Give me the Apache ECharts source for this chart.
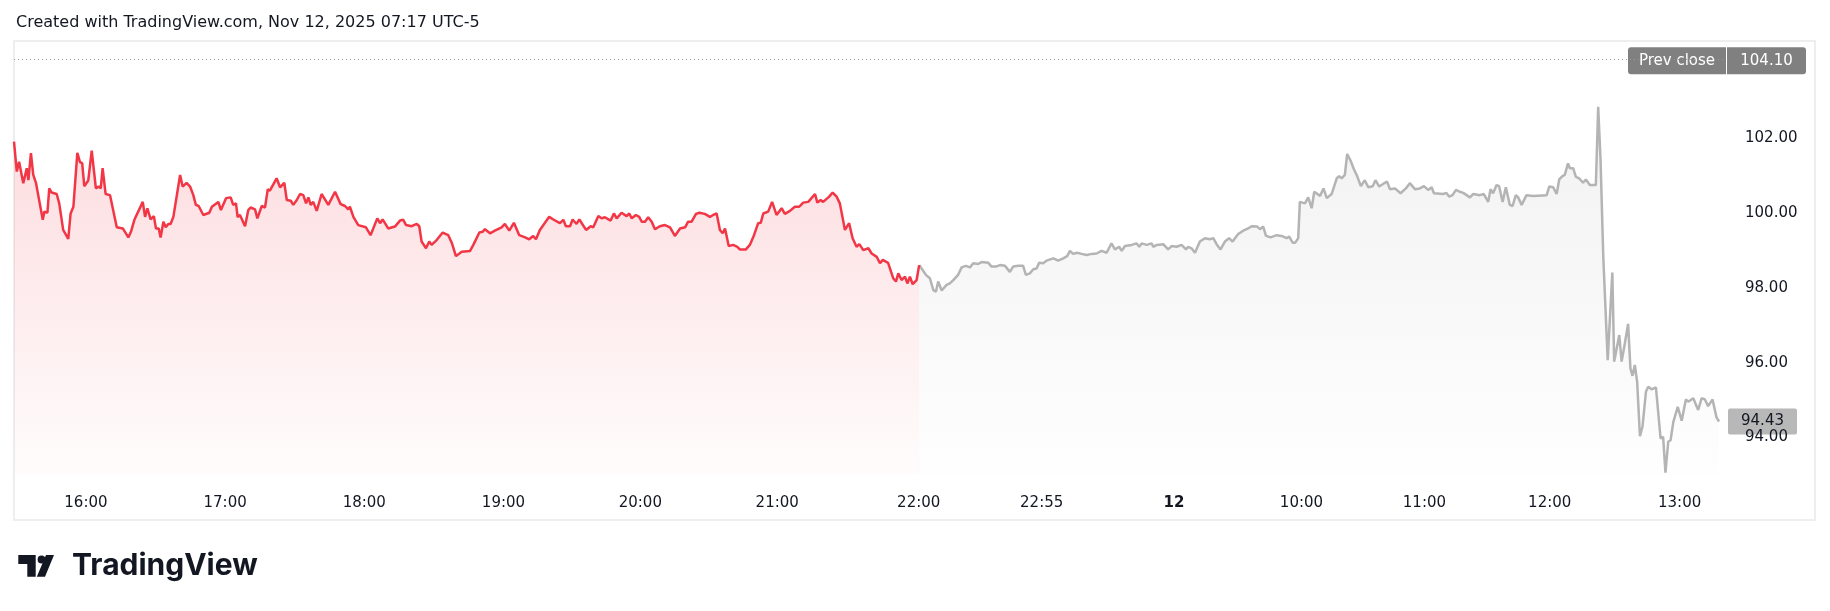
<!DOCTYPE html>
<html><head><meta charset="utf-8">
<script src="https://cdn.jsdelivr.net/npm/echarts@6/dist/echarts.min.js"></script>
<style>html,body{margin:0;padding:0;background:#fff}#c{width:1830px;height:611px}</style>
</head><body><div id="c"></div>
<script>
// bar index (1 unit = one bar on TradingView's index time axis) and price
const eveningBars=[0,1.2,2.2,4.0,5.5,6.2,7.3,8.3,9.5,12.4,13.1,14.4,15.2,16.2,18.4,19.5,20.3,21.2,23.4,24.4,25.6,27.3,28.4,29.4,30.3,32.0,33.5,35.3,36.5,37.4,38.2,39.5,41.4,44.3,46.9,49.3,50.4,51.9,55.5,56.5,57.5,58.9,60.3,61.2,62.4,63.2,64.4,65.4,66.5,67.5,68.7,71.6,72.7,74.4,75.9,77.3,78.4,79.6,81.6,84.2,85.3,88.1,89.2,91.4,93.4,94.5,95.7,96.4,97.4,99.6,101.0,102.0,103.9,104.9,106.8,108.2,109.4,110.3,113.2,114.7,116.5,117.6,119.3,120.4,121.9,123.3,124.7,125.9,126.9,127.9,129.0,130.5,132.6,135.5,138.4,140.8,142.7,144.1,144.8,146.3,148.4,151.7,153.7,156.6,157.8,158.9,161.3,164.2,166.4,167.8,169.0,171.4,173.6,174.7,175.7,177.6,179.0,180.0,182.2,184.8,
187.2,188.7,190.5,193.0,196.6,198.0,200.6,202.0,203.0,205.2,207.3,210.2,211.6,213.5,215.5,217.8,220.3,222.1,223.8,225.0,226.7,230.7,232.5,235.3,236.8,237.9,239.7,240.8,242.5,243.7,246.6,248.6,249.7,251.9,253.3,254.7,257.2,258.6,259.8,261.9,264.1,265.2,266.3,268.1,269.5,270.6,272.0,273.4,274.9,276.3,278.4,280.6,281.3,282.8,284.9,287.1,289.3,290.6,292.1,294.0,295.4,297.8,300.0,301.4,302.9,304.3,305.5,306.5,307.2,308.1,310.0,311.8,312.9,315.5,317.2,319.0,320.8,321.9,323.0,325.1,326.8,328.7,330.9,332.3,334.5,336.6,338.5,340.2,342.4,345.3,346.3,347.7,348.8,351.4,352.9,354.6,356.0,358.2,360.0,361.5,363.2,364.4,366.1,368.3,369.7,371.9,373.3,374.5,376.8,379.0,380.2,381.2,382.6,384.1,385.1,386.2,387.4,389.1,390.2];
const eveningPrices=[101.91,101.11,101.37,100.80,101.20,100.88,101.60,101.02,100.80,99.82,100.04,100.01,100.66,100.55,100.51,100.26,100.28,99.55,99.31,99.99,100.17,101.61,101.37,101.33,100.72,100.87,101.67,100.66,100.71,100.66,101.20,100.51,100.48,99.62,99.59,99.35,99.50,99.82,100.30,99.90,100.13,99.83,99.92,99.59,99.59,99.35,99.77,99.62,99.71,99.71,99.90,101.02,100.71,100.81,100.71,100.48,100.22,100.19,99.95,100.01,100.17,100.30,100.08,100.40,100.42,100.22,100.26,99.89,99.95,99.65,100.08,100.15,100.10,99.86,100.19,100.15,100.64,100.60,100.93,100.69,100.81,100.35,100.33,100.22,100.35,100.51,100.48,100.26,100.42,100.22,100.30,100.06,100.51,100.22,100.57,100.24,100.19,100.10,100.17,99.90,99.68,99.62,99.41,99.86,99.73,99.83,99.59,99.64,99.80,99.82,99.68,99.65,99.71,99.65,99.24,99.06,99.24,99.15,99.28,99.48,
99.41,99.21,98.85,98.97,98.99,99.15,99.48,99.50,99.57,99.46,99.53,99.62,99.71,99.53,99.74,99.41,99.35,99.30,99.39,99.30,99.55,99.90,99.83,99.73,99.82,99.65,99.65,99.83,99.71,99.83,99.55,99.65,99.62,99.92,99.86,99.89,99.80,99.99,99.86,100.01,99.92,99.99,99.86,99.95,99.90,99.77,99.77,99.89,99.77,99.57,99.65,99.68,99.71,99.62,99.39,99.59,99.62,99.77,99.77,99.98,100.01,99.98,99.90,99.95,99.99,99.55,99.46,99.59,99.57,99.12,99.15,99.10,99.03,99.03,99.15,99.41,99.73,99.74,99.99,100.04,100.30,99.95,100.13,99.98,100.06,100.17,100.17,100.28,100.30,100.51,100.28,100.35,100.30,100.44,100.55,100.44,100.26,99.55,99.73,99.33,99.10,99.17,99.01,99.06,98.92,98.83,98.66,98.75,98.67,98.26,98.17,98.39,98.21,98.30,98.12,98.30,98.10,98.21,98.61];
const dayBars=[390.2,391.7,393.1,394.8,396.3,397.4,398.4,399.9,402.0,403.4,404.9,407.0,408.5,410.3,412.1,413.5,415.6,417.1,420.0,421.4,423.3,425.0,427.2,429.3,430.7,432.9,435.0,436.2,437.9,439.4,440.8,441.9,443.7,445.1,448.0,450.1,452.3,454.0,455.2,456.6,458.3,460.2,462.4,464.5,466.7,468.8,471.0,473.1,474.6,476.4,477.5,478.9,481.8,483.9,485.1,486.1,488.3,490.4,491.1,492.6,495.4,497.5,499.0,501.2,503.3,505.2,506.2,507.6,509.1,511.2,513.4,515.5,517.0,518.4,520.1,522.0,523.8,525.3,527.7,529.9,532.0,533.5,535.9,537.1,538.5,539.7,541.7,544.3,546.4,548.6,549.7,551.2,552.3,553.6,554.3,556.5,557.9,559.4,560.5,563.0,564.5,565.9,568.0,570.2,571.3,572.3,573.7,574.7,576.2,577.6,579.0,580.6,582.3,583.8,585.7,586.9,588.5,590.2,591.9,593.1,595.3,597.7,600.0,601.7,603.9,606.0,607.8,609.6,611.1,612.1,616.1,617.5,618.7,620.1,621.6,623.3,624.7,626.2,627.6,629.0,631.9,633.6,635.5,636.5,637.6,639.1,640.2,641.7,643.1,644.8,646.0,647.4,648.4,649.9,652.0,654.9,660.7,661.8,663.5,665.0,666.1,667.5,668.5,669.9,670.7,672.1,673.3,674.7,676.4,677.6,679.3,681.9,682.9,683.9,685.1,687.0,689.0,689.8,692.0,693.0,694.4,695.8,696.8,697.7,698.7,699.7,700.9,702.0,703.5,704.5,705.9,707.8,708.3,709.8,710.9,711.9,713.1,714.1,715.3,717.2,718.9,720.7,721.7,723.9,726.0,727.5,728.9,730.3,732.2,733.9,735.0];
const dayPrices=[98.61,98.48,98.35,98.26,97.94,97.90,98.17,97.93,98.08,98.12,98.21,98.35,98.55,98.59,98.55,98.66,98.64,98.69,98.67,98.57,98.57,98.61,98.59,98.43,98.57,98.59,98.59,98.35,98.39,98.50,98.52,98.67,98.66,98.73,98.79,98.73,98.79,98.85,98.99,98.91,98.94,98.91,98.88,98.91,98.92,98.99,98.94,99.19,99.03,99.10,98.99,99.12,99.15,99.19,99.10,99.19,99.15,99.19,99.10,99.15,99.17,99.03,99.12,99.10,99.15,99.03,99.10,99.06,98.94,99.24,99.33,99.30,99.33,99.17,99.03,99.24,99.33,99.24,99.44,99.53,99.59,99.65,99.64,99.57,99.64,99.39,99.35,99.41,99.39,99.33,99.37,99.21,99.21,99.33,100.30,100.26,100.42,100.13,100.57,100.46,100.66,100.40,100.51,100.93,100.99,100.93,101.02,101.58,101.40,101.17,100.99,100.72,100.88,100.69,100.72,100.88,100.71,100.78,100.84,100.64,100.66,100.53,100.66,100.80,100.64,100.66,100.72,100.62,100.69,100.53,100.51,100.54,100.44,100.48,100.62,100.57,100.54,100.48,100.42,100.51,100.48,100.51,100.30,100.64,100.53,100.75,100.72,100.30,100.69,100.22,100.19,100.48,100.42,100.22,100.48,100.46,100.48,100.71,100.69,100.51,100.90,100.99,101.02,101.33,101.20,101.20,100.97,100.93,100.81,100.90,100.75,100.75,102.84,101.46,98.83,96.07,98.41,96.03,96.74,96.03,96.52,97.04,95.85,95.65,95.94,95.49,94.04,94.29,95.23,95.36,95.29,95.34,95.00,93.98,94.02,93.06,93.89,93.93,94.42,94.82,94.45,95.02,94.96,95.05,94.74,95.05,95.02,94.84,95.02,94.54,94.43];
const tickBars=[31,91,151,211,270,329,390,443,500,555,608,662,718];
const tickLabels=['16:00','17:00','18:00','19:00','20:00','21:00','22:00','22:55','12','10:00','11:00','12:00','13:00'];
const boldTicks=['12'];
const priceTicks=[94,96,98,100,102];
const prevClose=104.10;
const lastPrice=94.43;
const titleText='Created with TradingView.com, Nov 12, 2025 07:17 UTC-5';

const FONT='"DejaVu Sans", Verdana, sans-serif';
const chart=echarts.init(document.getElementById('c'),null,{renderer:'canvas'});
const zip=(a,b)=>a.map((x,i)=>[x,b[i]]);
const grad=(r,g,b,a0,a1)=>new echarts.graphic.LinearGradient(0,0,0,1,[{offset:0,color:`rgba(${r},${g},${b},${a0})`},{offset:1,color:`rgba(${r},${g},${b},${a1})`}]);

chart.setOption({
  animation:false,
  backgroundColor:'#ffffff',
  grid:{left:14,right:104,top:41,bottom:136,containLabel:false,outerBoundsMode:'none'},
  xAxis:{type:'value',min:0,max:738,
    axisLine:{show:false},axisTick:{show:false},splitLine:{show:false},
    axisLabel:{customValues:tickBars,margin:21,color:'#131722',fontFamily:FONT,fontSize:15,
      formatter:v=>{const i=tickBars.indexOf(Math.round(v));if(i<0)return '';const t=tickLabels[i];return boldTicks.includes(t)?'{b|'+t+'}':t;},
      rich:{b:{fontWeight:'bold',fontFamily:FONT,fontSize:15,color:'#131722'}}}},
  yAxis:{type:'value',position:'right',min:93,max:104.6,interval:1,scale:true,
    axisLine:{show:false},axisTick:{show:false},splitLine:{show:false},
    axisLabel:{margin:19,align:'left',color:'#131722',fontFamily:FONT,fontSize:15,
      formatter:v=>{const r=Math.round(v);return (Math.abs(v-r)<1e-6&&priceTicks.includes(r))?r.toFixed(2):'';}}},
  series:[
    {type:'line',name:'evening',data:zip(eveningBars,eveningPrices),showSymbol:false,symbol:'none',
      lineStyle:{color:'#f23645',width:2.5},itemStyle:{color:'#f23645'},
      areaStyle:{color:grad(242,54,69,0.24,0.02)},z:3},
    {type:'line',name:'day',data:zip(dayBars,dayPrices),showSymbol:false,symbol:'none',
      lineStyle:{color:'#b4b4b4',width:2.5},itemStyle:{color:'#b4b4b4'},
      areaStyle:{color:grad(150,150,150,0.18,0.01)},z:2,
      markLine:{silent:true,symbol:['none','none'],label:{show:false},
        lineStyle:{color:'#9a9a9a',width:1,type:[1,3]},data:[{yAxis:prevClose}]}}
  ]
});

const gr=chart.convertToPixel({xAxisIndex:0},738);
const yPrev=chart.convertToPixel({yAxisIndex:0},prevClose);
const yLast=chart.convertToPixel({yAxisIndex:0},lastPrice);
chart.setOption({graphic:[
  {type:'rect',silent:true,z:0,shape:{x:14,y:41,width:1801,height:479},style:{fill:'none',stroke:'#eeeeee',lineWidth:2}},
  {type:'text',silent:true,style:{x:16,y:23,text:titleText,font:'16px '+FONT,fill:'#131722',verticalAlign:'middle'}},
  {type:'group',z:100,children:[
    {type:'rect',shape:{x:gr-98,y:yPrev-12.5,width:98,height:27,r:[3,0,0,3]},style:{fill:'#808080'}},
    {type:'rect',shape:{x:gr+1,y:yPrev-12.5,width:79,height:27,r:[0,3,3,0]},style:{fill:'#808080'}},
    {type:'text',style:{x:gr-49,y:yPrev+1,text:'Prev close',font:'15px '+FONT,fill:'#ffffff',align:'center',verticalAlign:'middle'}},
    {type:'text',style:{x:gr+40.5,y:yPrev+1,text:prevClose.toFixed(2),font:'15px '+FONT,fill:'#ffffff',align:'center',verticalAlign:'middle'}},
    {type:'rect',shape:{x:gr+2,y:yLast-13,width:69,height:26,r:2},style:{fill:'#b8b8b8'}},
    {type:'text',style:{x:gr+36.5,y:yLast,text:lastPrice.toFixed(2),font:'15px '+FONT,fill:'#131722',align:'center',verticalAlign:'middle'}}
  ]},
  {type:'group',silent:true,children:[
    {type:'polygon',shape:{points:[[18.3,555],[35.7,555],[35.7,576.7],[27.3,576.7],[27.3,564],[18.3,564]]},style:{fill:'#131722'}},
    {type:'circle',shape:{cx:41.5,cy:559.5,r:3.9},style:{fill:'#131722'}},
    {type:'polygon',shape:{points:[[46,555],[54,555],[45,576.7],[36.8,576.7]]},style:{fill:'#131722'}},
    {type:'text',style:{x:72,y:566,text:'TradingView',font:'bold 30px Inter, "Noto Sans", sans-serif',fill:'#131722',verticalAlign:'middle'}}
  ]}
]});
</script></body></html>
